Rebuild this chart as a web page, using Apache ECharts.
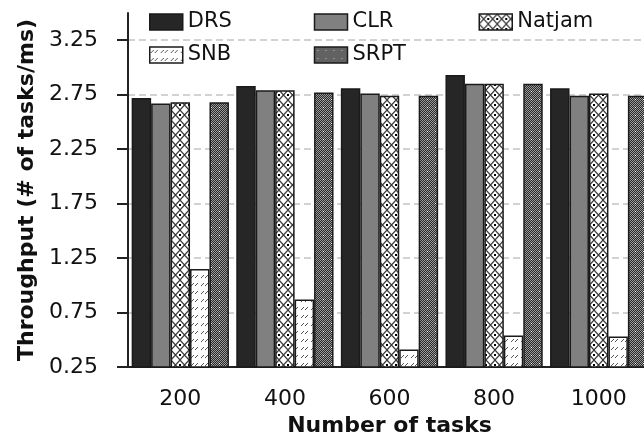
<!DOCTYPE html>
<html>
<head>
<meta charset="utf-8">
<script src="https://cdn.jsdelivr.net/npm/echarts@6/dist/echarts.min.js"></script>
<style>
  html, body { margin: 0; padding: 0; background: #fff; }
  #chart { width: 644px; height: 438px; }
</style>
</head>
<body>
<div id="chart"></div>
<script>
const tasks = ['200', '400', '600', '800', '1000']
const drs = [2.72, 2.83, 2.81, 2.93, 2.81]
const clr = [2.67, 2.79, 2.76, 2.85, 2.74]
const natjam = [2.68, 2.79, 2.74, 2.85, 2.76]
const snb = [1.15, 0.87, 0.41, 0.54, 0.53]
const srpt = [2.68, 2.77, 2.74, 2.85, 2.74]
const yTicks = [0.25, 0.75, 1.25, 1.75, 2.25, 2.75, 3.25]

const FONT = 'DejaVu Sans'
const INK = '#111'

// 用canvas画填充图案
function makePattern(w, h, draw) {
  const c = document.createElement('canvas')
  c.width = w
  c.height = h
  const ctx = c.getContext('2d')
  ctx.fillStyle = '#fff'
  ctx.fillRect(0, 0, w, h)
  draw(ctx)
  return { image: c, repeat: 'repeat' }
}

const crossFill = makePattern(9, 10, ctx => {
  ctx.strokeStyle = '#3a3a3a'
  ctx.lineWidth = 1.2
  ctx.beginPath()
  ctx.moveTo(0, 0); ctx.lineTo(9, 10)
  ctx.moveTo(9, 0); ctx.lineTo(0, 10)
  ctx.stroke()
  ctx.fillStyle = '#000'
  ctx.fillRect(0, 4, 1, 2)
  ctx.fillRect(8, 4, 1, 2)
})

const slashFill = makePattern(10, 8, ctx => {
  ctx.strokeStyle = '#555'
  ctx.lineWidth = 1
  ctx.beginPath()
  ctx.moveTo(1, 6); ctx.lineTo(4, 3)
  ctx.moveTo(5, 6); ctx.lineTo(8, 3)
  ctx.stroke()
})

const checkFill = makePattern(8, 8, ctx => {
  for (let x = 0; x < 8; x++) {
    for (let y = 0; y < 8; y++) {
      ctx.fillStyle = (x + y) % 2 ? '#2a2a2a' : '#9a9a9a'
      ctx.fillRect(x, y, 1, 1)
    }
  }
  ctx.fillStyle = '#fff'
  ctx.fillRect(3, 3, 1, 1)
})

function bar(name, data, fill) {
  return {
    name,
    type: 'bar',
    data,
    barGap: '0%',
    barCategoryGap: '7%',
    itemStyle: { color: fill, borderColor: '#1a1a1a', borderWidth: 1.5 }
  }
}

const legendBase = {
  icon: 'rect',
  itemWidth: 33,
  itemHeight: 16,
  itemGap: 0,
  itemTextGap: 4,
  padding: 0,
  left: 149,
  width: 520,
  itemStyle: { borderColor: '#1a1a1a', borderWidth: 1.5 },
  textStyle: { fontFamily: FONT, fontSize: 21, color: INK, width: 126, lineHeight: 22 }
}

const chart = echarts.init(document.getElementById('chart'), null, { renderer: 'canvas' })
chart.setOption({
  animation: false,
  backgroundColor: '#fff',
  legend: [
    Object.assign({}, legendBase, { top: 11, data: ['DRS', 'CLR', 'Natjam'] }),
    Object.assign({}, legendBase, { top: 44, data: ['SNB', 'SRPT'] })
  ],
  grid: { left: 128, right: -7, top: 13, bottom: 71, containLabel: false, outerBoundsMode: 'none' },
  xAxis: {
    type: 'category',
    data: tasks,
    name: 'Number of tasks',
    nameLocation: 'middle',
    nameGap: 45,
    nameTextStyle: { fontFamily: FONT, fontSize: 22, fontWeight: 'bold', color: INK },
    axisLine: { lineStyle: { color: '#222', width: 2 } },
    axisTick: { length: 11, lineStyle: { color: '#222', width: 2 } },
    axisLabel: { fontFamily: FONT, fontSize: 22, color: INK, margin: 21 }
  },
  yAxis: {
    type: 'value',
    min: 0.25,
    max: 3.5,
    name: 'Throughput (# of tasks/ms)',
    nameLocation: 'middle',
    nameGap: 88,
    nameTextStyle: { fontFamily: FONT, fontSize: 22, fontWeight: 'bold', color: INK },
    axisLine: { show: true, lineStyle: { color: '#222', width: 2 } },
    axisTick: { show: true, length: 11, customValues: yTicks, lineStyle: { color: '#222', width: 2 } },
    axisLabel: {
      fontFamily: FONT, fontSize: 22, color: INK, margin: 30,
      customValues: yTicks,
      formatter: v => v.toFixed(2)
    },
    splitLine: {
      show: true,
      customValues: yTicks,
      lineStyle: { color: '#c4c4c4', width: 1.5, type: [7, 4] }
    }
  },
  series: [
    bar('DRS', drs, '#262626'),
    bar('CLR', clr, '#808080'),
    bar('Natjam', natjam, crossFill),
    bar('SNB', snb, slashFill),
    bar('SRPT', srpt, checkFill)
  ]
})
</script>
</body>
</html>
